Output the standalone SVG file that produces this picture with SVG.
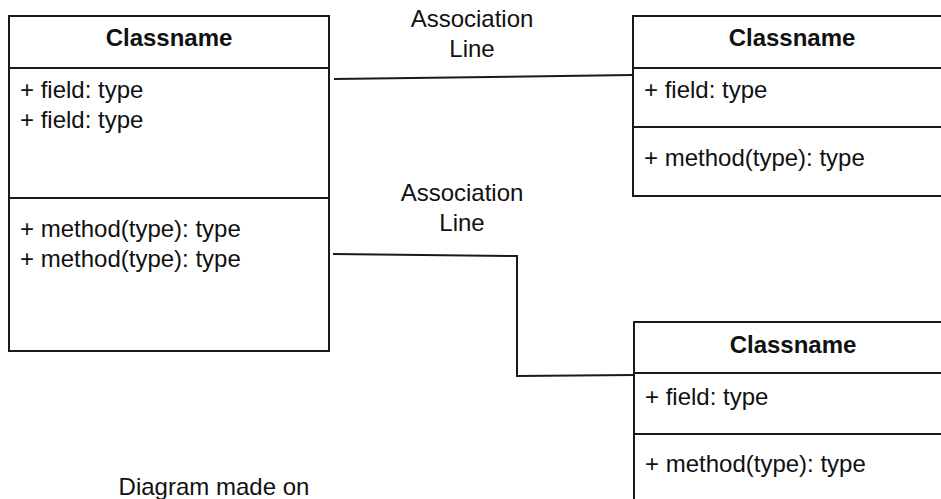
<svg xmlns="http://www.w3.org/2000/svg" width="941" height="499" viewBox="0 0 941 499">
  <style>
    .box { fill: #ffffff; stroke: #1a1a1a; stroke-width: 2; }
    .div { stroke: #1a1a1a; stroke-width: 2; fill: none; }
    .edge { stroke: #1a1a1a; stroke-width: 2; fill: none; }
    text { font-family: "Liberation Sans", Arial, sans-serif; font-size: 24px; fill: #111111; }
    .title { font-weight: bold; text-anchor: middle; }
    .lbl { text-anchor: middle; }
  </style>
  <rect width="941" height="499" fill="#ffffff"/>

  <!-- connectors -->
  <g id="connectors">
    <path class="edge" d="M334 79 L632 75"/>
    <path class="edge" d="M333 254 L517 256 L517 376 L634 375"/>
  </g>

  <!-- edge labels -->
  <g id="label-top">
    <text class="lbl" x="472" y="27">Association</text>
    <text class="lbl" x="472" y="57">Line</text>
  </g>
  <g id="label-bottom">
    <text class="lbl" x="462" y="201">Association</text>
    <text class="lbl" x="462" y="231">Line</text>
  </g>

  <!-- left class -->
  <g id="class-left">
    <rect class="box" x="9" y="16" width="320" height="335"/>
    <line class="div" x1="9" y1="68" x2="329" y2="68"/>
    <line class="div" x1="9" y1="198" x2="329" y2="198"/>
    <text class="title" x="169" y="46">Classname</text>
    <text x="20" y="98">+ field: type</text>
    <text x="20" y="128">+ field: type</text>
    <text x="20" y="237">+ method(type): type</text>
    <text x="20" y="267">+ method(type): type</text>
  </g>

  <!-- top right class -->
  <g id="class-top-right">
    <rect class="box" x="633" y="16" width="320" height="180"/>
    <line class="div" x1="633" y1="68" x2="953" y2="68"/>
    <line class="div" x1="633" y1="127" x2="953" y2="127"/>
    <text class="title" x="792" y="46">Classname</text>
    <text x="644" y="98">+ field: type</text>
    <text x="644" y="166">+ method(type): type</text>
  </g>

  <!-- bottom right class -->
  <g id="class-bottom-right">
    <rect class="box" x="634" y="322" width="320" height="200"/>
    <line class="div" x1="634" y1="373" x2="954" y2="373"/>
    <line class="div" x1="634" y1="434" x2="954" y2="434"/>
    <text class="title" x="793" y="353">Classname</text>
    <text x="645" y="405">+ field: type</text>
    <text x="645" y="472">+ method(type): type</text>
  </g>

  <text class="lbl" x="214" y="495">Diagram made on</text>
</svg>
